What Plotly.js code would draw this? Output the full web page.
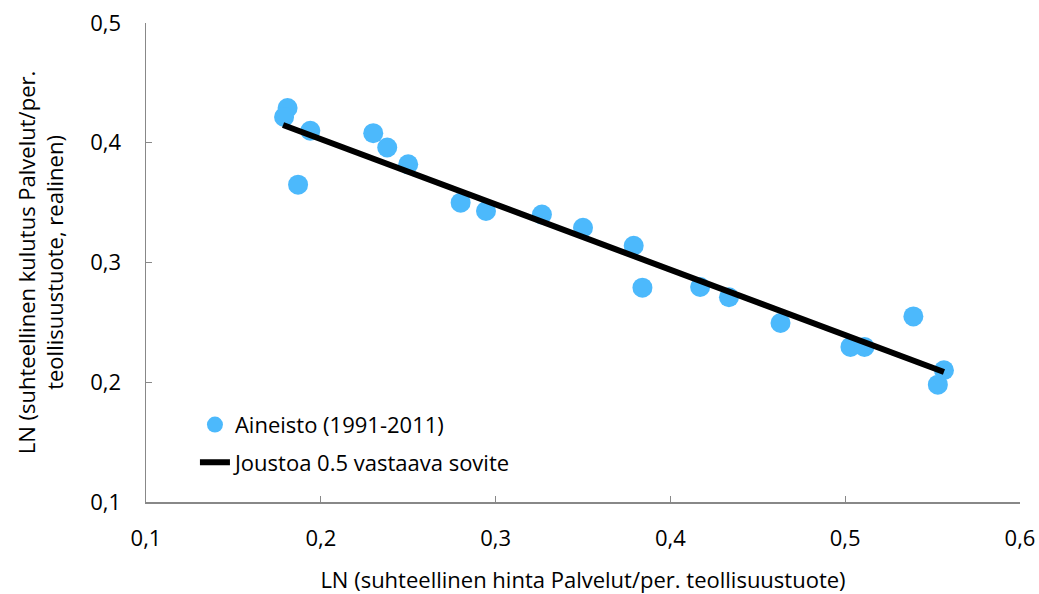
<!DOCTYPE html>
<html><head><meta charset="utf-8">
<script src="https://cdn.plot.ly/plotly-3.0.1.min.js"></script>
<style>body{margin:0;background:#fff}#chart{width:1039px;height:594px}</style>
</head><body><div id="chart"></div>
<script>
const dataX = [0.181,0.179,0.194,0.187,0.230,0.238,0.250,0.280,0.2945,0.3265,0.350,0.379,0.384,0.417,0.4335,0.463,0.503,0.511,0.539,0.553,0.5565];
const dataY = [0.429,0.4215,0.410,0.365,0.408,0.396,0.382,0.350,0.343,0.340,0.329,0.314,0.279,0.2795,0.271,0.2495,0.2295,0.2295,0.255,0.198,0.210];
const fitX = [0.1784,0.5565];
const fitY = [0.4148,0.2086];
const seriesNames = ["Aineisto (1991-2011)","Joustoa 0.5 vastaava sovite"];
const tickVals = [0.1,0.2,0.3,0.4,0.5,0.6];
const font = "'Open Sans', sans-serif";
const traces = [
  {x:dataX,y:dataY,type:'scatter',mode:'markers',name:seriesNames[0],legendgroup:'a',
   marker:{size:20,color:'#4cb9fc'}},
  {x:fitX,y:fitY,type:'scatter',mode:'lines',name:seriesNames[1],legendgroup:'b',
   line:{color:'#000',width:6}}
];
const axisBase = {showgrid:false,zeroline:false,showline:true,linecolor:'#888',linewidth:1.5,
  ticks:'inside',ticklen:6,tickcolor:'#888',tickwidth:1,tickformat:'.1f',
  tickfont:{family:font,size:22,color:'#000'}};
const layout = {
  width:1039,height:594,margin:{l:146,r:19,t:23,b:92},
  paper_bgcolor:'#fff',plot_bgcolor:'#fff',separators:', ',
  font:{family:font,color:'#000'},
  xaxis:Object.assign({},axisBase,{range:[0.1,0.6],tickvals:tickVals,ticklabelstandoff:16,
    title:{text:'LN (suhteellinen hinta Palvelut/per. teollisuustuote)',font:{family:font,size:22,color:'#000'},standoff:22}}),
  yaxis:Object.assign({},axisBase,{range:[0.1,0.5],tickvals:tickVals.slice(0,5),ticklabelstandoff:19,
    title:{text:'LN (suhteellinen kulutus Palvelut/per.<br>teollisuustuote, realinen)',font:{family:font,size:22,color:'#000'},standoff:20}}),
  legend:{x:0.056,y:0.205,xanchor:'left',yanchor:'top',bgcolor:'rgba(0,0,0,0)',traceorder:'grouped',
    font:{family:font,size:22,color:'#000'},tracegroupgap:6,itemwidth:30},
  showlegend:true
};
Plotly.newPlot('chart',traces,layout,{displayModeBar:false,staticPlot:true});
</script></body></html>
